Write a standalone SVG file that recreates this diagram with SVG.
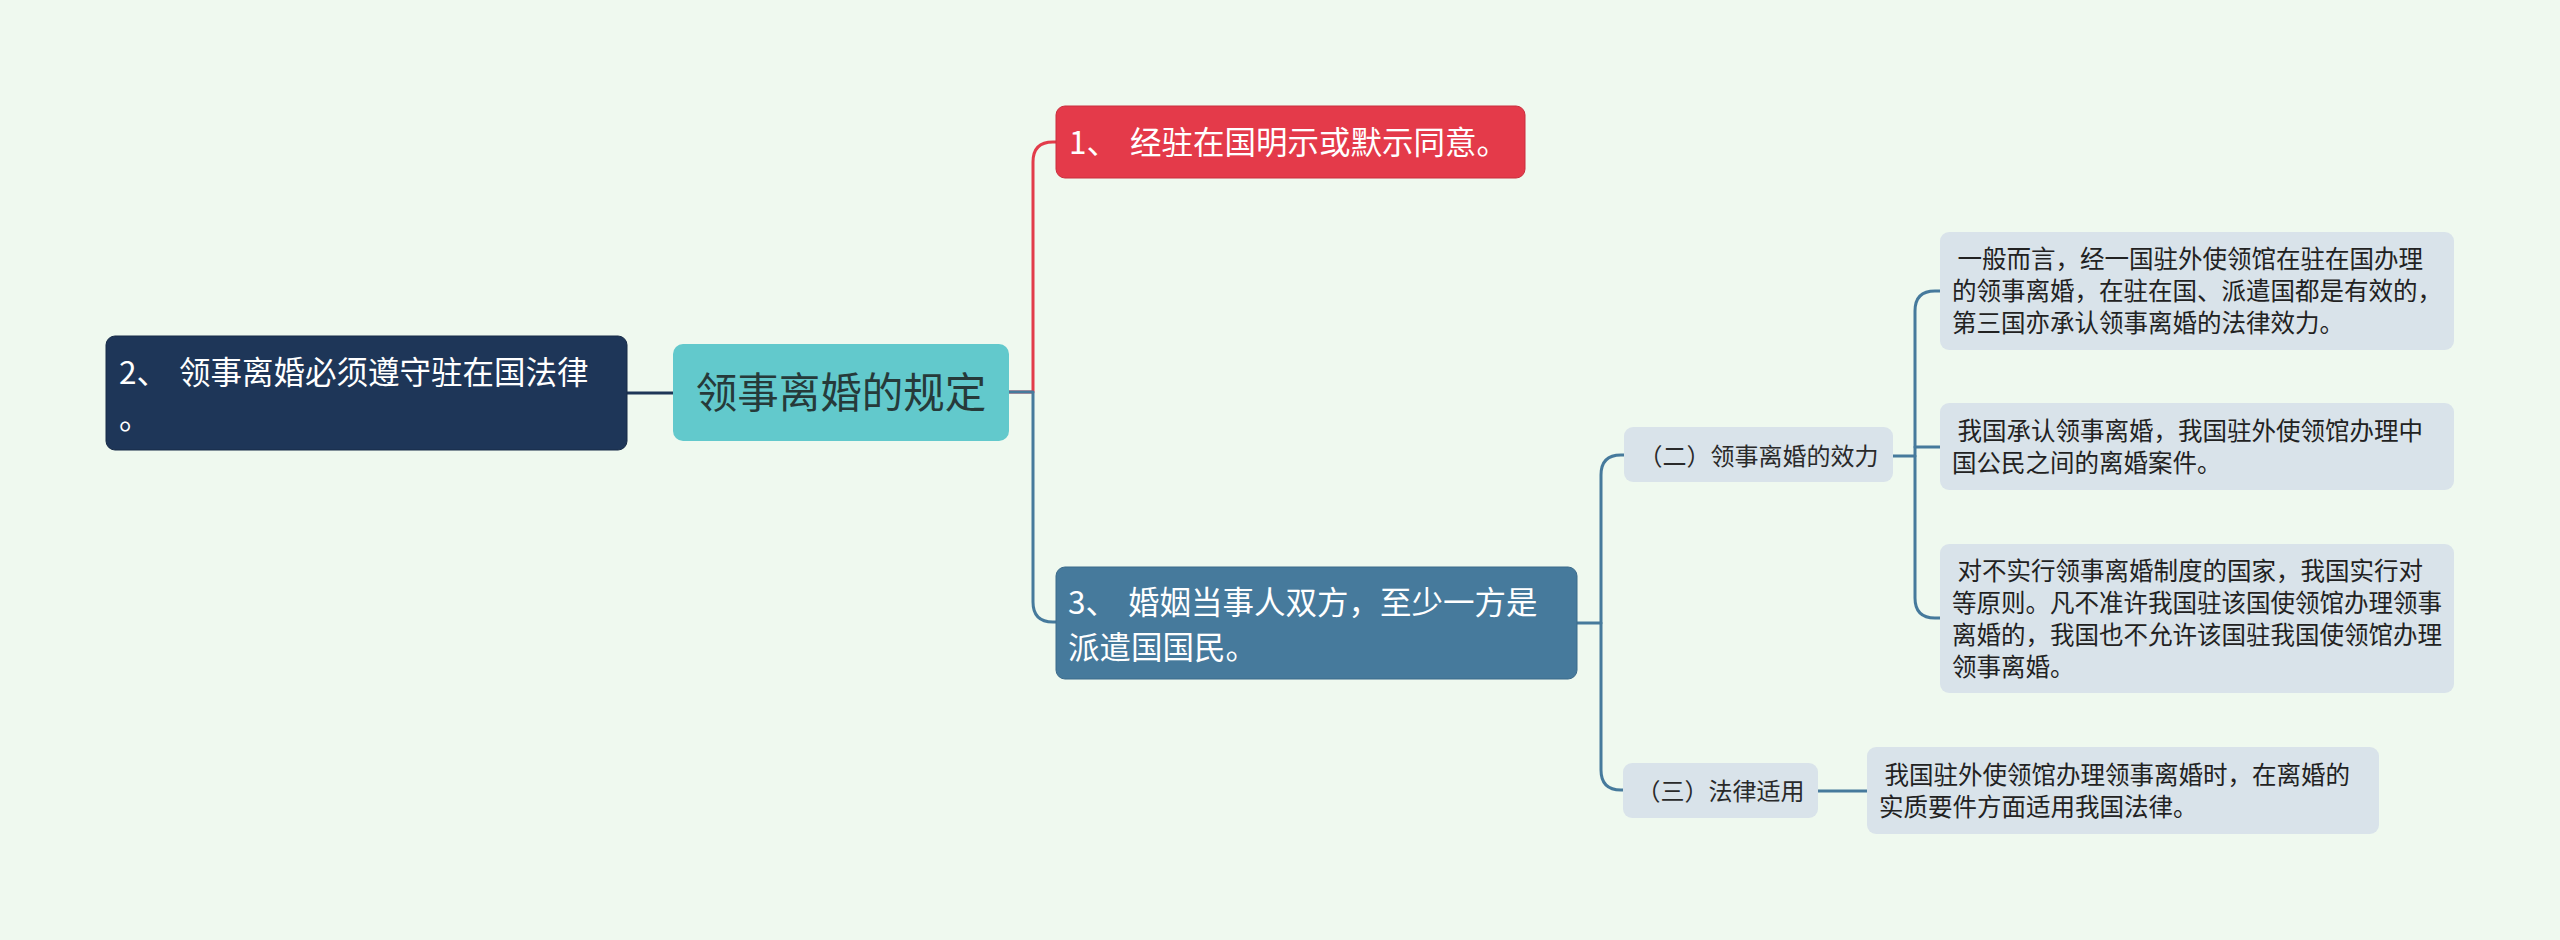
<svg xmlns="http://www.w3.org/2000/svg" width="2560" height="940" viewBox="0 0 2560 940">
<style>
text { font-family: "Noto Sans CJK SC", "Noto Sans", sans-serif; }
.l1 { font-size: 31.5px; fill: #ffffff; }
.ctr { font-size: 41.5px; fill: #263a3a; }
.l2 { font-size: 24px; fill: #2a2a2a; }
.lf { font-size: 24.5px; fill: #222222; }
.box2 { fill: #d9e3ea; }
.con { fill: none; stroke-width: 3; stroke-linecap: round; stroke-linejoin: round; }
</style>
<rect x="0" y="0" width="2560" height="940" fill="#eff9ef"/>
<g id="connectors">
  <path class="con" stroke="#1e3658" d="M627,393 H673"/>
  <path class="con" stroke="#e23c4a" d="M1009,392 H1033 V162 Q1033,142 1053,142 H1056"/>
  <path class="con" stroke="#467a9c" d="M1009,392 H1033 V602 Q1033,622 1053,622 H1056"/>
  <path class="con" stroke="#467a9c" d="M1577,623 H1601 V475 Q1601,455 1621,455 H1624"/>
  <path class="con" stroke="#467a9c" d="M1601,623 V770 Q1601,790 1621,790 H1623"/>
  <path class="con" stroke="#467a9c" d="M1893,456 H1915 V311 Q1915,291 1935,291 H1940"/>
  <path class="con" stroke="#467a9c" d="M1915,447 H1940"/>
  <path class="con" stroke="#467a9c" d="M1915,456 V598 Q1915,618 1935,618 H1940"/>
  <path class="con" stroke="#467a9c" d="M1818,791 H1867"/>
</g>
<g id="node-center">
  <rect x="673" y="344" width="336" height="97" rx="10" fill="#62c9cc"/>
  <text class="ctr" x="841" y="408" text-anchor="middle">领事离婚的规定</text>
</g>
<g id="node-1">
  <rect x="1056" y="106" width="469" height="72" rx="9" fill="#e43a4a" stroke="#c92e3c" stroke-width="1"/>
  <text class="l1" x="1069" y="153.5" xml:space="preserve">1、 <tspan dx="5">经驻在国明示或默示同意。</tspan></text>
</g>
<g id="node-2">
  <rect x="106" y="336" width="521" height="114" rx="9" fill="#1e3658" stroke="#162a46" stroke-width="1"/>
  <text class="l1" xml:space="preserve"><tspan x="119" y="383.5">2、 </tspan><tspan dx="4">领事离婚必须遵守驻在国法律</tspan><tspan x="119" y="428.5">。</tspan></text>
</g>
<g id="node-3">
  <rect x="1056" y="567" width="521" height="112" rx="9" fill="#467a9c" stroke="#3b6a8a" stroke-width="1"/>
  <text class="l1" xml:space="preserve"><tspan x="1068" y="613.5">3、 </tspan><tspan dx="4">婚姻当事人双方，至少一方是</tspan><tspan x="1068" y="658.5">派遣国国民。</tspan></text>
</g>
<g id="node-2-1">
  <rect class="box2" x="1624" y="427" width="269" height="55" rx="9"/>
  <text class="l2" x="1758.5" y="465" text-anchor="middle">（二）领事离婚的效力</text>
</g>
<g id="node-2-2">
  <rect class="box2" x="1623" y="763" width="195" height="55" rx="9"/>
  <text class="l2" x="1720.5" y="800" text-anchor="middle">（三）法律适用</text>
</g>
<g id="leaf-a">
  <rect class="box2" x="1940" y="232" width="514" height="118" rx="9"/>
  <text class="lf" xml:space="preserve"><tspan x="1952" y="268"> 一般而言，经一国驻外使领馆在驻在国办理</tspan><tspan x="1952" y="300">的领事离婚，在驻在国、派遣国都是有效的，</tspan><tspan x="1952" y="332">第三国亦承认领事离婚的法律效力。</tspan></text>
</g>
<g id="leaf-b">
  <rect class="box2" x="1940" y="403" width="514" height="87" rx="9"/>
  <text class="lf" xml:space="preserve"><tspan x="1952" y="440"> 我国承认领事离婚，我国驻外使领馆办理中</tspan><tspan x="1952" y="472">国公民之间的离婚案件。</tspan></text>
</g>
<g id="leaf-c">
  <rect class="box2" x="1940" y="544" width="514" height="149" rx="9"/>
  <text class="lf" xml:space="preserve"><tspan x="1952" y="580"> 对不实行领事离婚制度的国家，我国实行对</tspan><tspan x="1952" y="612">等原则。凡不准许我国驻该国使领馆办理领事</tspan><tspan x="1952" y="644">离婚的，我国也不允许该国驻我国使领馆办理</tspan><tspan x="1952" y="676">领事离婚。</tspan></text>
</g>
<g id="leaf-d">
  <rect class="box2" x="1867" y="747" width="512" height="87" rx="9"/>
  <text class="lf" xml:space="preserve"><tspan x="1879" y="784"> 我国驻外使领馆办理领事离婚时，在离婚的</tspan><tspan x="1879" y="816">实质要件方面适用我国法律。</tspan></text>
</g>
</svg>
